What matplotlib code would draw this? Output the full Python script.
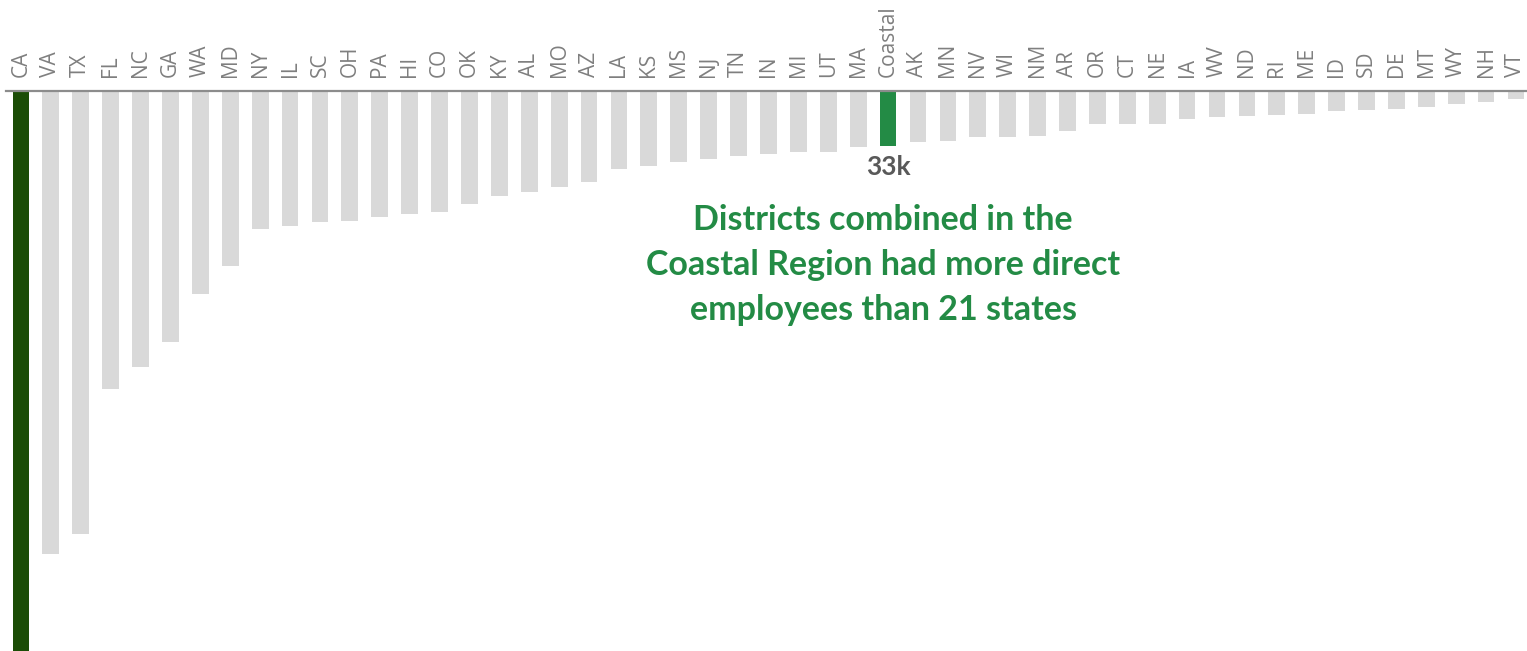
import numpy as np
import matplotlib
matplotlib.use('Agg')
import matplotlib.pyplot as plt

# direct employees (thousands), sorted, Coastal Region inserted in rank order
states = ["CA", "VA", "TX", "FL", "NC", "GA", "WA", "MD", "NY", "IL", "SC", "OH", "PA",
          "HI", "CO", "OK", "KY", "AL", "MO", "AZ", "LA", "KS", "MS", "NJ", "TN", "IN",
          "MI", "UT", "MA", "Coastal", "AK", "MN", "NV", "WI", "NM", "AR", "OR", "CT",
          "NE", "IA", "WV", "ND", "RI", "ME", "ID", "SD", "DE", "MT", "WY", "NH", "VT"]
employees = [340, 278, 266, 179, 166, 151, 122, 105, 83, 81, 79, 78, 76,
             74, 73, 68, 63, 61, 58, 55, 47, 45, 43, 41, 39, 38,
             37, 37, 34, 33, 31, 30, 28, 28, 27, 24, 20, 20,
             20, 17, 16, 15, 14.5, 14, 12, 11.5, 11, 10, 8, 7, 5]
highlight = "Coastal"
top_state = "CA"

GRAY = "#d9d9d9"
DARK_GREEN = "#1b4d06"
GREEN = "#238b45"

colors = []
for s in states:
    if s == highlight:
        colors.append(GREEN)
    elif s == top_state:
        colors.append(DARK_GREEN)
    else:
        colors.append(GRAY)

W, H = 1527, 651
fig = plt.figure(figsize=(W / 100, H / 100), dpi=100)
ax = fig.add_axes([6 / W, 0, (W - 6) / W, (H - 90.5) / H])

x = np.arange(len(states))
ax.bar(x, employees, width=0.56, color=colors)

ax.set_xlim(-0.5, (W - 21) / 29.9)
ax.set_ylim(336.3, 0)

for side in ["left", "right", "bottom"]:
    ax.spines[side].set_visible(False)
ax.spines["top"].set_color("#8c8c8c")
ax.spines["top"].set_linewidth(1.6)

ax.xaxis.tick_top()
ax.set_xticks(x)
ax.set_xticklabels(states, rotation=90, fontsize=15, color="#7f7f7f", family="Open Sans")
ax.tick_params(axis="x", length=0, pad=9.5)
ax.set_yticks([])

ci = states.index(highlight)
ax.annotate(f"{employees[ci]:.0f}k", (ci, employees[ci]), xytext=(0, -7),
            textcoords="offset points", ha="center", va="top",
            fontsize=19, fontweight="bold", color="#595959", family="Lato")

fig.text(883 / W, 1 - 265 / H,
         "Districts combined in the\nCoastal Region had more direct\nemployees than 21 states",
         ha="center", va="center", fontsize=24.5, fontweight="bold", color=GREEN,
         family="Lato", linespacing=1.5)

fig.savefig("out.png", dpi=100)
